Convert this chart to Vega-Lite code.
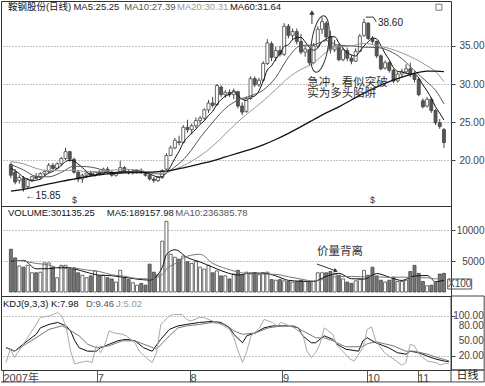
{
"$schema":"https://vega.github.io/schema/vega-lite/v6.json",
"padding":0,"background":"white","spacing":0,"bounds":"flush",
"resolve":{"scale":{"x":"independent","y":"independent"}},
"config":{"font":"Liberation Sans, Noto Sans CJK SC, sans-serif","view":{"stroke":"#333","strokeWidth":1},
"axis":{"labelFont":"Liberation Sans","labelFontSize":10,"labelColor":"#444","tickColor":"#444","gridColor":"#888","gridDash":[1,2],"gridWidth":1,"domain":false,"labelOverlap":false,"labelFlush":false}},
"datasets":{
"days":[
{"i":0,"o":19.4,"h":19.7,"l":17.6,"c":18.0,"v":6900,"m5":18.9},
{"i":1,"o":18.4,"h":18.8,"l":16.8,"c":17.1,"v":5500,"m5":18.6},
{"i":2,"o":17.3,"h":18.0,"l":16.9,"c":17.7,"v":4200,"m5":18.2},
{"i":3,"o":17.6,"h":17.9,"l":15.85,"c":16.3,"v":4000,"m5":17.7},
{"i":4,"o":16.5,"h":17.6,"l":16.3,"c":17.4,"v":4300,"m5":17.5},
{"i":5,"o":17.4,"h":17.9,"l":17.1,"c":17.8,"v":3100,"m5":17.26},
{"i":6,"o":17.8,"h":18.3,"l":17.5,"c":17.6,"v":3100,"m5":17.36},
{"i":7,"o":17.7,"h":18.4,"l":17.5,"c":18.2,"v":3200,"m5":17.46},
{"i":8,"o":18.2,"h":18.7,"l":17.9,"c":18.5,"v":4700,"m5":17.9},
{"i":9,"o":18.5,"h":19.6,"l":18.3,"c":19.3,"v":4700,"m5":18.28},
{"i":10,"o":19.3,"h":19.6,"l":18.7,"c":18.9,"v":4000,"m5":18.5},
{"i":11,"o":18.9,"h":19.7,"l":18.8,"c":19.5,"v":2300,"m5":18.88},
{"i":12,"o":19.5,"h":20.4,"l":19.3,"c":20.2,"v":4300,"m5":19.28},
{"i":13,"o":20.2,"h":21.6,"l":20.0,"c":21.1,"v":4300,"m5":19.8},
{"i":14,"o":21.1,"h":21.2,"l":19.8,"c":20.1,"v":3900,"m5":19.96},
{"i":15,"o":20.1,"h":20.3,"l":18.2,"c":18.4,"v":3900,"m5":19.86},
{"i":16,"o":18.4,"h":18.7,"l":17.1,"c":17.5,"v":3100,"m5":19.46},
{"i":17,"o":17.5,"h":18.2,"l":17.0,"c":18.0,"v":2700,"m5":19.02},
{"i":18,"o":18.0,"h":18.6,"l":17.6,"c":18.3,"v":2300,"m5":18.46},
{"i":19,"o":18.3,"h":18.6,"l":17.8,"c":18.0,"v":2600,"m5":18.04},
{"i":20,"o":18.0,"h":18.5,"l":17.8,"c":18.4,"v":3400,"m5":18.04},
{"i":21,"o":18.4,"h":18.7,"l":18.0,"c":18.2,"v":2600,"m5":18.18},
{"i":22,"o":18.2,"h":19.0,"l":18.1,"c":18.8,"v":2700,"m5":18.34},
{"i":23,"o":18.8,"h":19.1,"l":18.2,"c":18.4,"v":2300,"m5":18.36},
{"i":24,"o":18.4,"h":18.6,"l":17.8,"c":18.0,"v":2100,"m5":18.36},
{"i":25,"o":18.0,"h":18.5,"l":17.8,"c":18.3,"v":1600,"m5":18.34},
{"i":26,"o":18.3,"h":19.9,"l":18.2,"c":19.0,"v":3500,"m5":18.5},
{"i":27,"o":19.0,"h":19.2,"l":18.3,"c":18.5,"v":2300,"m5":18.44},
{"i":28,"o":18.5,"h":18.8,"l":18.1,"c":18.4,"v":2000,"m5":18.44},
{"i":29,"o":18.4,"h":18.7,"l":18.1,"c":18.5,"v":1500,"m5":18.54},
{"i":30,"o":18.5,"h":18.8,"l":18.2,"c":18.6,"v":1100,"m5":18.6},
{"i":31,"o":18.6,"h":18.9,"l":18.2,"c":18.3,"v":1400,"m5":18.46},
{"i":32,"o":18.3,"h":18.5,"l":17.8,"c":18.0,"v":1100,"m5":18.36},
{"i":33,"o":18.0,"h":18.2,"l":17.3,"c":17.5,"v":4500,"m5":18.18},
{"i":34,"o":17.5,"h":17.8,"l":17.0,"c":17.3,"v":3200,"m5":17.94},
{"i":35,"o":17.3,"h":17.9,"l":17.1,"c":17.7,"v":2800,"m5":17.76},
{"i":36,"o":17.7,"h":18.8,"l":17.5,"c":18.6,"v":8200,"m5":17.82},
{"i":37,"o":18.8,"h":20.9,"l":18.7,"c":20.6,"v":11400,"m5":18.34},
{"i":38,"o":20.6,"h":21.9,"l":20.5,"c":21.6,"v":6100,"m5":19.16},
{"i":39,"o":21.6,"h":22.9,"l":21.4,"c":22.6,"v":5600,"m5":20.22},
{"i":40,"o":22.4,"h":23.2,"l":21.9,"c":22.3,"v":5300,"m5":21.14},
{"i":41,"o":22.3,"h":24.6,"l":22.2,"c":24.3,"v":5800,"m5":22.28},
{"i":42,"o":24.3,"h":25.3,"l":23.6,"c":24.0,"v":4900,"m5":22.96},
{"i":43,"o":24.0,"h":24.8,"l":23.4,"c":24.5,"v":4600,"m5":23.54},
{"i":44,"o":24.5,"h":25.6,"l":24.2,"c":25.2,"v":4900,"m5":24.06},
{"i":45,"o":25.2,"h":25.8,"l":24.8,"c":25.5,"v":4000,"m5":24.7},
{"i":46,"o":25.5,"h":26.8,"l":25.3,"c":26.6,"v":3700,"m5":25.16},
{"i":47,"o":26.6,"h":27.9,"l":26.2,"c":27.5,"v":4300,"m5":25.86},
{"i":48,"o":27.5,"h":28.3,"l":26.9,"c":27.2,"v":3100,"m5":26.4},
{"i":49,"o":27.3,"h":30.0,"l":27.1,"c":29.8,"v":3400,"m5":27.32},
{"i":50,"o":29.6,"h":29.8,"l":28.3,"c":28.6,"v":2600,"m5":27.94},
{"i":51,"o":28.6,"h":29.2,"l":28.2,"c":28.9,"v":2600,"m5":28.4},
{"i":52,"o":28.9,"h":29.3,"l":28.3,"c":28.6,"v":2100,"m5":28.62},
{"i":53,"o":28.6,"h":29.4,"l":28.0,"c":29.1,"v":2900,"m5":29.0},
{"i":54,"o":29.0,"h":29.1,"l":26.8,"c":27.1,"v":3500,"m5":28.46},
{"i":55,"o":27.1,"h":27.6,"l":25.9,"c":26.3,"v":2700,"m5":28.0},
{"i":56,"o":26.4,"h":28.3,"l":26.2,"c":28.1,"v":3200,"m5":27.84},
{"i":57,"o":28.1,"h":31.0,"l":27.9,"c":30.7,"v":3000,"m5":28.26},
{"i":58,"o":30.7,"h":31.0,"l":29.6,"c":29.9,"v":3100,"m5":28.42},
{"i":59,"o":29.9,"h":30.8,"l":29.6,"c":30.5,"v":2800,"m5":29.1},
{"i":60,"o":30.5,"h":33.0,"l":30.3,"c":32.7,"v":3100,"m5":30.38},
{"i":61,"o":32.7,"h":35.9,"l":32.5,"c":35.4,"v":3200,"m5":31.84},
{"i":62,"o":35.3,"h":35.6,"l":33.0,"c":33.5,"v":2000,"m5":32.4},
{"i":63,"o":33.5,"h":34.9,"l":33.0,"c":34.4,"v":1900,"m5":33.3},
{"i":64,"o":34.4,"h":35.0,"l":33.6,"c":33.9,"v":2000,"m5":33.98},
{"i":65,"o":33.9,"h":38.0,"l":33.7,"c":37.6,"v":1800,"m5":34.96},
{"i":66,"o":37.6,"h":37.9,"l":36.0,"c":36.4,"v":1700,"m5":35.16},
{"i":67,"o":36.4,"h":37.3,"l":35.8,"c":36.9,"v":1600,"m5":35.84},
{"i":68,"o":36.9,"h":37.3,"l":35.2,"c":35.6,"v":1700,"m5":36.08},
{"i":69,"o":35.6,"h":36.6,"l":33.9,"c":34.2,"v":1900,"m5":36.14},
{"i":70,"o":34.2,"h":35.0,"l":33.6,"c":34.6,"v":1700,"m5":35.54},
{"i":71,"o":34.5,"h":34.7,"l":32.4,"c":32.8,"v":1600,"m5":34.82},
{"i":72,"o":32.8,"h":35.4,"l":32.6,"c":35.0,"v":1700,"m5":34.44},
{"i":73,"o":35.0,"h":37.6,"l":34.7,"c":37.2,"v":3100,"m5":34.76},
{"i":74,"o":37.2,"h":38.8,"l":36.6,"c":38.2,"v":3100,"m5":35.56},
{"i":75,"o":38.0,"h":38.3,"l":35.8,"c":36.2,"v":3100,"m5":35.88},
{"i":76,"o":36.2,"h":37.0,"l":34.0,"c":34.5,"v":3300,"m5":36.22},
{"i":77,"o":34.5,"h":35.8,"l":34.2,"c":35.0,"v":2900,"m5":36.22},
{"i":78,"o":35.0,"h":35.3,"l":33.0,"c":33.2,"v":2700,"m5":35.42},
{"i":79,"o":33.2,"h":34.8,"l":33.0,"c":34.5,"v":2100,"m5":34.68},
{"i":80,"o":34.4,"h":34.8,"l":33.0,"c":33.4,"v":1600,"m5":34.12},
{"i":81,"o":33.4,"h":33.8,"l":32.6,"c":33.0,"v":1400,"m5":33.82},
{"i":82,"o":33.0,"h":34.7,"l":32.9,"c":34.3,"v":1800,"m5":33.68},
{"i":83,"o":34.3,"h":36.6,"l":34.2,"c":36.3,"v":2100,"m5":34.3},
{"i":84,"o":36.4,"h":38.6,"l":36.2,"c":38.1,"v":3500,"m5":35.02},
{"i":85,"o":38.0,"h":38.1,"l":35.8,"c":36.0,"v":2700,"m5":35.54},
{"i":86,"o":36.0,"h":36.3,"l":35.3,"c":35.6,"v":4000,"m5":36.06},
{"i":87,"o":35.6,"h":35.7,"l":33.4,"c":33.7,"v":2600,"m5":35.94},
{"i":88,"o":33.7,"h":33.9,"l":31.8,"c":32.0,"v":1900,"m5":35.08},
{"i":89,"o":32.1,"h":33.1,"l":31.9,"c":32.8,"v":1600,"m5":34.02},
{"i":90,"o":32.8,"h":33.0,"l":31.5,"c":31.8,"v":1900,"m5":33.18},
{"i":91,"o":31.8,"h":32.0,"l":30.1,"c":30.4,"v":2400,"m5":32.14},
{"i":92,"o":30.4,"h":31.6,"l":30.2,"c":31.3,"v":1700,"m5":31.66},
{"i":93,"o":31.3,"h":32.0,"l":30.9,"c":31.6,"v":1700,"m5":31.58},
{"i":94,"o":31.6,"h":32.6,"l":31.3,"c":32.0,"v":1900,"m5":31.42},
{"i":95,"o":32.0,"h":32.8,"l":30.9,"c":31.2,"v":3300,"m5":31.3},
{"i":96,"o":31.2,"h":31.7,"l":30.2,"c":30.6,"v":4300,"m5":31.34},
{"i":97,"o":30.6,"h":30.8,"l":28.4,"c":28.6,"v":3000,"m5":30.8},
{"i":98,"o":27.8,"h":28.1,"l":26.8,"c":27.0,"v":1700,"m5":29.88},
{"i":99,"o":27.1,"h":28.3,"l":26.9,"c":28.0,"v":1000,"m5":29.08},
{"i":100,"o":28.0,"h":28.2,"l":26.2,"c":26.5,"v":1100,"m5":28.14},
{"i":101,"o":26.5,"h":26.7,"l":24.6,"c":24.9,"v":1500,"m5":27.0},
{"i":102,"o":24.9,"h":25.4,"l":24.1,"c":24.4,"v":2900,"m5":26.16},
{"i":103,"o":24.0,"h":24.2,"l":21.6,"c":22.3,"v":3011,"m5":25.25}
],
"ma":[
{"i":0,"m10":19.4,"m20":19.8,"m60":15.9},
{"i":3,"m10":18.7,"m20":19.5,"m60":16.15},
{"i":6,"m10":17.85,"m20":18.9,"m60":16.5},
{"i":9,"m10":17.79,"m20":18.6,"m60":16.85},
{"i":12,"m10":18.37,"m20":18.6,"m60":17.2},
{"i":15,"m10":19.18,"m20":18.67,"m60":17.5},
{"i":18,"m10":19.13,"m20":18.46,"m60":17.8},
{"i":21,"m10":18.82,"m20":18.47,"m60":18.05},
{"i":24,"m10":18.2,"m20":18.66,"m60":18.2},
{"i":27,"m10":18.39,"m20":18.77,"m60":18.3},
{"i":30,"m10":18.47,"m20":18.71,"m60":18.35},
{"i":33,"m10":18.31,"m20":18.36,"m60":18.4},
{"i":36,"m10":18.14,"m20":18.24,"m60":18.5},
{"i":39,"m10":19.08,"m20":18.77,"m60":18.75},
{"i":42,"m10":20.65,"m20":19.53,"m60":19.1},
{"i":45,"m10":22.92,"m20":20.55,"m60":19.5},
{"i":48,"m10":24.97,"m20":21.82,"m60":19.9},
{"i":51,"m10":26.78,"m20":23.42,"m60":20.4},
{"i":54,"m10":27.89,"m20":25.02,"m60":20.9},
{"i":57,"m10":28.44,"m20":26.43,"m60":21.4},
{"i":60,"m10":29.19,"m20":27.76,"m60":22.0},
{"i":63,"m10":30.86,"m20":29.28,"m60":22.7},
{"i":66,"m10":33.5,"m20":30.81,"m60":23.5},
{"i":69,"m10":35.06,"m20":31.92,"m60":24.4},
{"i":72,"m10":35.14,"m20":32.74,"m60":25.3},
{"i":75,"m10":35.71,"m20":34.19,"m60":26.2},
{"i":78,"m10":35.09,"m20":34.89,"m60":27.0},
{"i":81,"m10":35.02,"m20":35.0,"m60":27.9},
{"i":84,"m10":34.85,"m20":35.35,"m60":28.8},
{"i":87,"m10":34.81,"m20":35.07,"m60":29.6},
{"i":90,"m10":34.36,"m20":34.68,"m60":30.3},
{"i":93,"m10":33.33,"m20":34.1,"m60":30.9},
{"i":96,"m10":31.74,"m20":33.34,"m60":31.4},
{"i":99,"m10":30.25,"m20":32.39,"m60":31.7},
{"i":101,"m10":29.17,"m20":31.64,"m60":31.7},
{"i":103,"m10":27.39,"m20":30.31,"m60":31.64}
],
"vma":[
{"i":0,"m5":5000,"m10":5200},{"i":3,"m5":5100,"m10":5000},{"i":6,"m5":3740,"m10":4610},{"i":9,"m5":3760,"m10":4370},
{"i":12,"m5":4000,"m10":3770},{"i":15,"m5":3740,"m10":3840},{"i":18,"m5":3180,"m10":3550},{"i":21,"m5":2720,"m10":3310},
{"i":24,"m5":2620,"m10":2770},{"i":27,"m5":2360,"m10":2540},{"i":30,"m5":2080,"m10":2170},{"i":33,"m5":1920,"m10":2110},
{"i":36,"m5":3960,"m10":2810},{"i":37,"m5":6020,"m10":3720},{"i":39,"m5":6820,"m10":4540},{"i":42,"m5":5540,"m10":5780},
{"i":45,"m5":4840,"m10":6080},{"i":48,"m5":4000,"m10":4620},{"i":51,"m5":3200,"m10":3810},{"i":54,"m5":2740,"m10":3220},
{"i":57,"m5":3060,"m10":2910},{"i":60,"m5":3040,"m10":2900},{"i":63,"m5":2600,"m10":2850},{"i":66,"m5":1880,"m10":2460},
{"i":69,"m5":1740,"m10":2090},{"i":72,"m5":1720,"m10":1760},{"i":75,"m5":2520,"m10":2120},{"i":78,"m5":3020,"m10":2510},
{"i":81,"m5":2140,"m10":2500},{"i":84,"m5":2080,"m10":2450},{"i":87,"m5":2980,"m10":2450},{"i":90,"m5":2400,"m10":2350},
{"i":93,"m5":1860,"m10":2400},{"i":96,"m5":2580,"m10":2330},{"i":99,"m5":2660,"m10":2290},{"i":101,"m5":1660,"m10":2120},
{"i":103,"m5":1892,"m10":2364}
],
"kdj":[
{"s":"K","i":0,"v":36},{"s":"K","i":1,"v":33},{"s":"K","i":2,"v":29},{"s":"K","i":3,"v":36},{"s":"K","i":5,"v":50},{"s":"K","i":7,"v":63},{"s":"K","i":8,"v":76},{"s":"K","i":10,"v":83},{"s":"K","i":12,"v":87},{"s":"K","i":14,"v":80},{"s":"K","i":15,"v":70},{"s":"K","i":16,"v":50},{"s":"K","i":17,"v":36},{"s":"K","i":19,"v":29},{"s":"K","i":21,"v":29},{"s":"K","i":22,"v":36},{"s":"K","i":24,"v":43},{"s":"K","i":26,"v":50},{"s":"K","i":28,"v":53},{"s":"K","i":30,"v":50},{"s":"K","i":32,"v":36},{"s":"K","i":34,"v":29},{"s":"K","i":36,"v":53},{"s":"K","i":38,"v":73},{"s":"K","i":40,"v":80},{"s":"K","i":42,"v":83},{"s":"K","i":45,"v":87},{"s":"K","i":48,"v":89},{"s":"K","i":50,"v":87},{"s":"K","i":52,"v":76},{"s":"K","i":53,"v":63},{"s":"K","i":55,"v":46},{"s":"K","i":56,"v":60},{"s":"K","i":58,"v":66},{"s":"K","i":60,"v":76},{"s":"K","i":62,"v":80},{"s":"K","i":65,"v":80},{"s":"K","i":66,"v":80},{"s":"K","i":68,"v":76},{"s":"K","i":69,"v":60},{"s":"K","i":71,"v":46},{"s":"K","i":72,"v":46},{"s":"K","i":74,"v":60},{"s":"K","i":76,"v":53},{"s":"K","i":77,"v":43},{"s":"K","i":79,"v":33},{"s":"K","i":82,"v":29},{"s":"K","i":83,"v":50},{"s":"K","i":84,"v":56},{"s":"K","i":86,"v":46},{"s":"K","i":89,"v":36},{"s":"K","i":91,"v":26},{"s":"K","i":93,"v":23},{"s":"K","i":94,"v":29},{"s":"K","i":96,"v":26},{"s":"K","i":98,"v":19},{"s":"K","i":100,"v":13},{"s":"K","i":102,"v":9},{"s":"K","i":103,"v":8},
{"s":"D","i":0,"v":36},{"s":"D","i":2,"v":29},{"s":"D","i":4,"v":40},{"s":"D","i":7,"v":56},{"s":"D","i":10,"v":73},{"s":"D","i":13,"v":80},{"s":"D","i":14,"v":76},{"s":"D","i":17,"v":60},{"s":"D","i":19,"v":43},{"s":"D","i":21,"v":36},{"s":"D","i":24,"v":40},{"s":"D","i":27,"v":50},{"s":"D","i":30,"v":50},{"s":"D","i":33,"v":40},{"s":"D","i":35,"v":33},{"s":"D","i":38,"v":60},{"s":"D","i":40,"v":76},{"s":"D","i":42,"v":80},{"s":"D","i":45,"v":83},{"s":"D","i":48,"v":87},{"s":"D","i":51,"v":83},{"s":"D","i":53,"v":70},{"s":"D","i":55,"v":63},{"s":"D","i":58,"v":66},{"s":"D","i":61,"v":76},{"s":"D","i":64,"v":80},{"s":"D","i":67,"v":80},{"s":"D","i":69,"v":70},{"s":"D","i":72,"v":56},{"s":"D","i":74,"v":56},{"s":"D","i":76,"v":50},{"s":"D","i":79,"v":38},{"s":"D","i":83,"v":38},{"s":"D","i":84,"v":44},{"s":"D","i":86,"v":48},{"s":"D","i":88,"v":44},{"s":"D","i":90,"v":40},{"s":"D","i":93,"v":29},{"s":"D","i":95,"v":29},{"s":"D","i":98,"v":23},{"s":"D","i":100,"v":17},{"s":"D","i":102,"v":12},{"s":"D","i":103,"v":9.5},
{"s":"J","i":0,"v":6},{"s":"J","i":1,"v":33},{"s":"J","i":2,"v":16},{"s":"J","i":3,"v":30},{"s":"J","i":5,"v":56},{"s":"J","i":7,"v":83},{"s":"J","i":8,"v":97},{"s":"J","i":10,"v":100},{"s":"J","i":11,"v":103},{"s":"J","i":12,"v":107},{"s":"J","i":13,"v":100},{"s":"J","i":14,"v":77},{"s":"J","i":15,"v":30},{"s":"J","i":16,"v":3},{"s":"J","i":17,"v":6},{"s":"J","i":19,"v":9},{"s":"J","i":20,"v":6},{"s":"J","i":21,"v":40},{"s":"J","i":22,"v":26},{"s":"J","i":23,"v":43},{"s":"J","i":24,"v":70},{"s":"J","i":25,"v":66},{"s":"J","i":27,"v":63},{"s":"J","i":28,"v":60},{"s":"J","i":30,"v":46},{"s":"J","i":31,"v":29},{"s":"J","i":33,"v":13},{"s":"J","i":34,"v":6},{"s":"J","i":35,"v":26},{"s":"J","i":36,"v":83},{"s":"J","i":38,"v":100},{"s":"J","i":39,"v":103},{"s":"J","i":41,"v":103},{"s":"J","i":42,"v":93},{"s":"J","i":43,"v":90},{"s":"J","i":45,"v":97},{"s":"J","i":46,"v":97},{"s":"J","i":48,"v":90},{"s":"J","i":50,"v":83},{"s":"J","i":52,"v":73},{"s":"J","i":53,"v":56},{"s":"J","i":54,"v":29},{"s":"J","i":55,"v":6},{"s":"J","i":56,"v":29},{"s":"J","i":57,"v":60},{"s":"J","i":59,"v":76},{"s":"J","i":60,"v":93},{"s":"J","i":62,"v":87},{"s":"J","i":63,"v":80},{"s":"J","i":64,"v":87},{"s":"J","i":66,"v":80},{"s":"J","i":67,"v":76},{"s":"J","i":69,"v":63},{"s":"J","i":70,"v":29},{"s":"J","i":71,"v":16},{"s":"J","i":72,"v":26},{"s":"J","i":73,"v":43},{"s":"J","i":74,"v":76},{"s":"J","i":76,"v":63},{"s":"J","i":77,"v":40},{"s":"J","i":79,"v":23},{"s":"J","i":80,"v":13},{"s":"J","i":81,"v":9},{"s":"J","i":83,"v":36},{"s":"J","i":84,"v":73},{"s":"J","i":85,"v":78},{"s":"J","i":86,"v":50},{"s":"J","i":87,"v":38},{"s":"J","i":88,"v":26},{"s":"J","i":90,"v":14},{"s":"J","i":92,"v":1},{"s":"J","i":93,"v":6},{"s":"J","i":94,"v":43},{"s":"J","i":95,"v":40},{"s":"J","i":96,"v":23},{"s":"J","i":98,"v":9},{"s":"J","i":100,"v":6},{"s":"J","i":101,"v":1},{"s":"J","i":102,"v":4},{"s":"J","i":103,"v":5}
]
},
"vconcat":[
{"width":450,"height":205,
"layer":[
{"data":{"name":"days"},"mark":{"type":"rule","color":"#444","strokeWidth":1},
"encoding":{"x":{"field":"i","type":"quantitative","scale":{"domain":[-1.163,103.49],"nice":false,"zero":false},"axis":null},
"y":{"field":"l","type":"quantitative","scale":{"domain":[13.95,40.92],"nice":false,"zero":false},"axis":{"orient":"right","values":[20,25,30,35],"format":".2f","grid":true,"tickSize":4,"labelAlign":"right","labelPadding":29,"labelOverlap":false,"title":null}},
"y2":{"field":"h"}}},
{"data":{"name":"days"},"mark":{"type":"bar","size":3,"stroke":"#444","strokeWidth":0.8},
"encoding":{"x":{"field":"i","type":"quantitative","axis":null},"y":{"field":"o","type":"quantitative","axis":{"title":null}},"y2":{"field":"c"},
"fill":{"condition":{"test":"datum.c >= datum.o","value":"#ffffff"},"value":"#555555"}}},
{"data":{"name":"days"},"mark":{"type":"line","stroke":"#111","strokeWidth":1,"interpolate":"monotone"},
"encoding":{"x":{"field":"i","type":"quantitative","axis":null},"y":{"field":"m5","type":"quantitative","axis":{"title":null}}}},
{"data":{"name":"ma"},"mark":{"type":"line","stroke":"#555","strokeWidth":1,"interpolate":"monotone"},
"encoding":{"x":{"field":"i","type":"quantitative","axis":null},"y":{"field":"m10","type":"quantitative","axis":{"title":null}}}},
{"data":{"name":"ma"},"mark":{"type":"line","stroke":"#999","strokeWidth":1,"interpolate":"monotone"},
"encoding":{"x":{"field":"i","type":"quantitative","axis":null},"y":{"field":"m20","type":"quantitative","axis":{"title":null}}}},
{"data":{"name":"ma"},"mark":{"type":"line","stroke":"#111","strokeWidth":1.3,"interpolate":"monotone"},
"encoding":{"x":{"field":"i","type":"quantitative","axis":null},"y":{"field":"m60","type":"quantitative","axis":{"title":null}}}},
{"data":{"values":[{}]},"mark":{"type":"text","text":"鞍钢股份(日线)","align":"left","baseline":"middle","fontSize":9.5,"color":"#111"},"encoding":{"x":{"datum":-0.7},"y":{"datum":40.07}}},
{"data":{"values":[{}]},"mark":{"type":"text","text":"MA5:25.25","align":"left","baseline":"middle","fontSize":9.5,"color":"#222"},"encoding":{"x":{"datum":14.88},"y":{"datum":40.07}}},
{"data":{"values":[{}]},"mark":{"type":"text","text":"MA10:27.39","align":"left","baseline":"middle","fontSize":9.5,"color":"#555"},"encoding":{"x":{"datum":26.98},"y":{"datum":40.07}}},
{"data":{"values":[{}]},"mark":{"type":"text","text":"MA20:30.31","align":"left","baseline":"middle","fontSize":9.5,"color":"#999"},"encoding":{"x":{"datum":39.53},"y":{"datum":40.07}}},
{"data":{"values":[{}]},"mark":{"type":"text","text":"MA60:31.64","align":"left","baseline":"middle","fontSize":9.5,"color":"#111"},"encoding":{"x":{"datum":52.09},"y":{"datum":40.07}}},
{"data":{"values":[{}]},"mark":{"type":"point","shape":"square","size":36,"filled":false,"color":"#444","strokeWidth":1},"encoding":{"x":{"datum":101.8},"y":{"datum":40.1}}},
{"data":{"values":[{}]},"mark":{"type":"text","text":"←15.85","align":"left","baseline":"middle","fontSize":10,"color":"#222"},"encoding":{"x":{"datum":3.5},"y":{"datum":15.26}}},
{"data":{"values":[{}]},"mark":{"type":"text","text":"$","align":"center","baseline":"middle","fontSize":9,"color":"#333"},"encoding":{"x":{"datum":15.1},"y":{"datum":14.74}}},
{"data":{"values":[{}]},"mark":{"type":"text","text":"$","align":"center","baseline":"middle","fontSize":9,"color":"#333"},"encoding":{"x":{"datum":86.0},"y":{"datum":14.74}}},
{"data":{"values":[{}]},"mark":{"type":"rule","color":"#333","strokeWidth":1},"encoding":{"x":{"datum":84.4},"x2":{"datum":86.2},"y":{"datum":38.8}}},
{"data":{"values":[{}]},"mark":{"type":"rule","color":"#333","strokeWidth":1},"encoding":{"x":{"datum":86.2},"x2":{"datum":86.9},"y":{"datum":38.8},"y2":{"datum":38.2}}},
{"data":{"values":[{}]},"mark":{"type":"text","text":"38.60","align":"left","baseline":"middle","fontSize":10,"color":"#222"},"encoding":{"x":{"datum":87.3},"y":{"datum":38.0}}},
{"data":{"values":[{}]},"mark":{"type":"rule","color":"#333","strokeWidth":1},"encoding":{"x":{"datum":71.6},"y":{"datum":39.3},"y2":{"datum":37.9}}},
{"data":{"values":[{}]},"mark":{"type":"point","shape":"triangle-up","size":28,"filled":true,"color":"#333","opacity":1},"encoding":{"x":{"datum":71.6},"y":{"datum":39.4}}},
{"data":{"values":[{}]},"mark":{"type":"point","shape":"M0,-1C0.1657,-1 0.3,-0.5523 0.3,0C0.3,0.5523 0.1657,1 0,1C-0.1657,1 -0.3,0.5523 -0.3,0C-0.3,-0.5523 -0.1657,-1 0,-1Z","size":3249,"filled":false,"color":"#333","strokeWidth":1,"angle":8,"opacity":1},"encoding":{"x":{"datum":73.5},"y":{"datum":35.26}}},
{"data":{"values":[{}]},"mark":{"type":"text","text":"急冲，看似突破","align":"left","baseline":"middle","fontSize":11.5,"color":"#333"},"encoding":{"x":{"datum":70.5},"y":{"datum":30.13}}},
{"data":{"values":[{}]},"mark":{"type":"text","text":"实为多头陷阱","align":"left","baseline":"middle","fontSize":11.5,"color":"#333"},"encoding":{"x":{"datum":70.5},"y":{"datum":28.68}}}
]},
{"width":450,"height":90,
"layer":[
{"data":{"name":"days"},"mark":{"type":"bar","size":3,"stroke":"#444","strokeWidth":0.8},
"encoding":{"x":{"field":"i","type":"quantitative","scale":{"domain":[-1.163,103.49],"nice":false,"zero":false},"axis":null},
"y":{"field":"v","type":"quantitative","scale":{"domain":[-645,13871],"nice":false,"zero":false},"axis":{"orient":"right","values":[5000,10000],"format":"d","grid":true,"tickSize":4,"labelAlign":"right","labelPadding":29,"labelOverlap":false,"title":null}},
"y2":{"datum":0},
"fill":{"condition":{"test":"datum.c >= datum.o","value":"#ffffff"},"value":"#777777"}}},
{"data":{"name":"vma"},"mark":{"type":"line","stroke":"#111","strokeWidth":1,"interpolate":"monotone"},
"encoding":{"x":{"field":"i","type":"quantitative","axis":null},"y":{"field":"m5","type":"quantitative","axis":{"title":null}}}},
{"data":{"name":"vma"},"mark":{"type":"line","stroke":"#777","strokeWidth":1,"interpolate":"monotone"},
"encoding":{"x":{"field":"i","type":"quantitative","axis":null},"y":{"field":"m10","type":"quantitative","axis":{"title":null}}}},
{"data":{"values":[{}]},"mark":{"type":"text","text":"VOLUME:301135.25","align":"left","baseline":"middle","fontSize":9.5,"color":"#111"},"encoding":{"x":{"datum":-0.7},"y":{"datum":12742}}},
{"data":{"values":[{}]},"mark":{"type":"text","text":"MA5:189157.98","align":"left","baseline":"middle","fontSize":9.5,"color":"#222"},"encoding":{"x":{"datum":22.8},"y":{"datum":12742}}},
{"data":{"values":[{}]},"mark":{"type":"text","text":"MA10:236385.78","align":"left","baseline":"middle","fontSize":9.5,"color":"#555"},"encoding":{"x":{"datum":39.1},"y":{"datum":12742}}},
{"data":{"values":[{}]},"mark":{"type":"text","text":"价量背离","align":"left","baseline":"middle","fontSize":11.5,"color":"#333"},"encoding":{"x":{"datum":72.8},"y":{"datum":6450}}},
{"data":{"values":[{}]},"mark":{"type":"rule","color":"#333","strokeWidth":1},"encoding":{"x":{"datum":72.8},"x2":{"datum":77.0},"y":{"datum":4516},"y2":{"datum":3480}}},
{"data":{"values":[{}]},"mark":{"type":"point","shape":"triangle-right","size":22,"filled":true,"color":"#333","angle":19,"opacity":1},"encoding":{"x":{"datum":77.3},"y":{"datum":3400}}},
{"data":{"values":[{}]},"mark":{"type":"rect","fill":"transparent","stroke":"#555","strokeWidth":1},"encoding":{"x":{"datum":103.9},"x2":{"datum":109.6},"y":{"datum":2097},"y2":{"datum":484}}},
{"data":{"values":[{}]},"mark":{"type":"text","text":"X100","align":"center","baseline":"middle","fontSize":10,"color":"#444"},"encoding":{"x":{"datum":106.75},"y":{"datum":1290}}}
]},
{"width":450,"height":74,
"layer":[
{"data":{"name":"kdj"},"mark":{"type":"line","strokeWidth":1},
"encoding":{"x":{"field":"i","type":"quantitative","scale":{"domain":[-1.163,103.49],"nice":false,"zero":false},
"axis":{"orient":"bottom","values":[-0.7,21.2,42.8,64.3,84,95.7],"labelExpr":"datum.value < 0 ? '2007年' : datum.value < 30 ? '7' : datum.value < 50 ? '8' : datum.value < 70 ? '9' : datum.value < 90 ? '10' : '11'","tickSize":12,"labelPadding":-10,"labelAlign":"left","labelBaseline":"top","labelDx":2,"labelFontSize":11,"labelFont":"Liberation Sans, Noto Sans CJK SC","grid":false,"title":null,"tickColor":"#555","labelOverlap":false}},
"y":{"field":"v","type":"quantitative","scale":{"domain":[-8.9,140.3],"nice":false,"zero":false},"axis":{"orient":"right","values":[20,50,80,100],"grid":true,"tickSize":4,"labels":false,"title":null}},
"stroke":{"field":"s","type":"nominal","scale":{"domain":["J","D","K"],"range":["#aaaaaa","#777777","#111111"]},"legend":null}}},
{"data":{"values":[{}]},"mark":{"type":"text","text":"100.00","align":"right","baseline":"middle","fontSize":10,"color":"#444"},"encoding":{"x":{"datum":111.1},"y":{"datum":100}}},
{"data":{"values":[{}]},"mark":{"type":"text","text":"80.00","align":"right","baseline":"middle","fontSize":10,"color":"#444"},"encoding":{"x":{"datum":111.1},"y":{"datum":80}}},
{"data":{"values":[{}]},"mark":{"type":"text","text":"50.00","align":"right","baseline":"middle","fontSize":10,"color":"#444"},"encoding":{"x":{"datum":111.1},"y":{"datum":50}}},
{"data":{"values":[{}]},"mark":{"type":"text","text":"20.00","align":"right","baseline":"middle","fontSize":10,"color":"#444"},"encoding":{"x":{"datum":111.1},"y":{"datum":20}}},
{"data":{"values":[{}]},"mark":{"type":"text","text":"KDJ(9,3,3) K:7.98","align":"left","baseline":"middle","fontSize":9.5,"color":"#111"},"encoding":{"x":{"datum":-0.7},"y":{"datum":124.2}}},
{"data":{"values":[{}]},"mark":{"type":"text","text":"D:9.46","align":"left","baseline":"middle","fontSize":9.5,"color":"#555"},"encoding":{"x":{"datum":18.6},"y":{"datum":124.2}}},
{"data":{"values":[{}]},"mark":{"type":"text","text":"J:5.02","align":"left","baseline":"middle","fontSize":9.5,"color":"#999"},"encoding":{"x":{"datum":25.6},"y":{"datum":124.2}}},
{"data":{"values":[{}]},"mark":{"type":"rect","fill":"transparent","stroke":"#444","strokeWidth":1},"encoding":{"x":{"datum":103.49},"x2":{"datum":111.2},"y":{"datum":140.3},"y2":{"datum":-8.9}}},
{"data":{"values":[{}]},"mark":{"type":"rect","fill":"transparent","stroke":"#444","strokeWidth":1},"encoding":{"x":{"datum":103.49},"x2":{"datum":111.2},"y":{"datum":-8.9},"y2":{"datum":-33}}},
{"data":{"values":[{}]},"mark":{"type":"rule","color":"#444","strokeWidth":1},"encoding":{"x":{"datum":-1.163},"x2":{"datum":103.49},"y":{"datum":-33}}},
{"data":{"values":[{}]},"mark":{"type":"text","text":"日线","align":"center","baseline":"middle","fontSize":11,"color":"#222"},"encoding":{"x":{"datum":107.35},"y":{"datum":-21.5}}}
]}
]
}
